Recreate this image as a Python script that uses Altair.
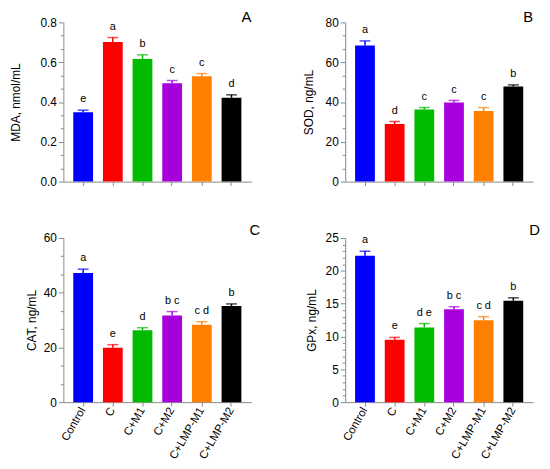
import altair as alt
import pandas as pd

groups = ["Control", "C", "C+M1", "C+M2", "C+LMP-M1", "C+LMP-M2"]
colors = ["#0000FF", "#FF0000", "#00BB00", "#A800DD", "#FF8000", "#000000"]

mda = [0.348, 0.702, 0.616, 0.494, 0.530, 0.421]
mda_err = [0.011, 0.022, 0.021, 0.014, 0.013, 0.015]
mda_letters = ["e", "a", "b", "c", "c", "d"]

sod = [68.4, 28.9, 36.2, 39.8, 35.5, 47.8]
sod_err = [2.3, 1.3, 1.0, 1.0, 1.7, 0.8]
sod_letters = ["a", "d", "c", "c", "c", "b"]

cat = [47.2, 19.9, 26.3, 31.7, 28.3, 35.1]
cat_err = [1.4, 1.1, 0.9, 1.4, 1.1, 0.8]
cat_letters = ["a", "e", "d", "b c", "c d", "b"]

gpx = [22.28, 9.51, 11.37, 14.13, 12.47, 15.44]
gpx_err = [0.70, 0.35, 0.60, 0.40, 0.55, 0.45]
gpx_letters = ["a", "e", "d e", "b c", "c d", "b"]

FONT = "Liberation Sans"
AXIS_GRAY = "#8a8a8a"


def panel(vals, errs, letters, ytitle, ymax, major, nminor, fmt, plabel,
          show_x, tpad, height, pdx, pdy):
    df = pd.DataFrame({
        "group": groups,
        "value": vals,
        "hi": [v + e for v, e in zip(vals, errs)],
        "letter": letters,
    })
    nmaj = int(round(ymax / major))
    major_vals = [round(i * major, 6) for i in range(nmaj + 1)]
    minor_vals = [round(i * major + j * major / (nminor + 1), 6)
                  for i in range(nmaj) for j in range(1, nminor + 1)]
    x = alt.X(
        "group:N", sort=groups,
        scale=alt.Scale(paddingInner=1 / 3, paddingOuter=1 / 3),
        axis=alt.Axis(title=None, labels=show_x, labelAngle=300,
                      labelAlign="right", labelBaseline="middle",
                      labelPadding=2, tickSize=4, labelFontSize=11.5),
    )
    yscale = alt.Scale(domain=[0, ymax], nice=False, zero=True)
    y = alt.Y(
        "value:Q", scale=yscale,
        axis=alt.Axis(title=ytitle, values=major_vals, format=fmt,
                      labelOverlap=False, tickSize=5, orient="left",
                      titlePadding=tpad, titleFontSize=12, titleFontWeight="normal",
                      labelFontSize=12, grid=False),
    )
    color = alt.Color("group:N", scale=alt.Scale(domain=groups, range=colors), legend=None)
    xs = alt.X("group:N", sort=groups)
    base = alt.Chart(df)
    minor = alt.Chart(pd.DataFrame({"v": [0, ymax]})).mark_point(opacity=0).encode(
        y=alt.Y("v:Q", scale=yscale,
                axis=alt.Axis(orient="left", values=minor_vals, labels=False, domain=False,
                              tickSize=3, title=None, grid=False)))
    bars = base.mark_bar().encode(x=x, y=y, color=color)
    rule = base.mark_rule(strokeWidth=1.5).encode(
        x=xs, y=alt.Y("value:Q", scale=yscale, axis=None), y2="hi:Q", color=color)
    cap = base.mark_tick(size=11, thickness=1.5).encode(
        x=xs, y=alt.Y("hi:Q", scale=yscale, axis=None), color=color)
    txt = base.mark_text(fontSize=11, dy=-8, baseline="alphabetic", color="black", font=FONT).encode(
        x=xs, y=alt.Y("hi:Q", scale=yscale, axis=None), text="letter:N")
    lab = alt.Chart(pd.DataFrame({"t": [plabel]})).mark_text(
        fontSize=15, align="right", baseline="alphabetic", color="black", font=FONT
    ).encode(text="t:N", x=alt.value(190 + pdx), y=alt.value(pdy))
    return alt.layer(bars, minor, rule, cap, txt, lab).resolve_axis(y="independent").properties(
        width=190, height=height)


pa = panel(mda, mda_err, mda_letters, "MDA, nmol/mL", 0.8, 0.2, 2, ".1f", "A", False, 18, 161, 0, 0)
pb = panel(sod, sod_err, sod_letters, "SOD, ng/mL", 80, 20, 2, "d", "B", False, 10, 161, 0, 0)
pc = panel(cat, cat_err, cat_letters, "CAT, ng/mL", 60, 20, 2, "d", "C", True, 5, 166, 9, -3)
pd_ = panel(gpx, gpx_err, gpx_letters, "GPx, ng/mL", 25, 5, 4, "d", "D", True, 7, 166, 7, -3)

chart = alt.concat(
    pa, pb, pc, pd_, columns=2, spacing={"row": 57, "column": 95}, bounds="flush"
).properties(
    padding={"left": 1, "top": 0, "right": 2, "bottom": 0}
).configure(font=FONT).configure_view(stroke=None).configure_axis(
    domainColor=AXIS_GRAY, tickColor=AXIS_GRAY, labelColor="black", titleColor="black",
    labelFont=FONT, titleFont=FONT, domainWidth=1, tickWidth=1,
)

chart.save("out.html", embed_options={"renderer": "svg", "actions": False})
